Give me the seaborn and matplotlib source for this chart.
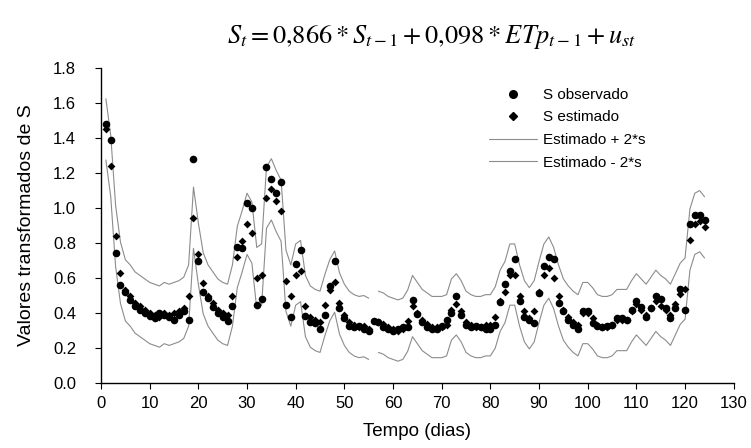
import numpy as np
import pandas as pd
import matplotlib
matplotlib.use("Agg")
import matplotlib.pyplot as plt
from matplotlib.lines import Line2D
import seaborn as sns

days = list(range(1, 125))
s_observado = [
    1.48, 1.39, 0.745, 0.56, 0.52, 0.475, 0.44, 0.42, 0.40, 0.385,
    0.37, 0.40, 0.39, 0.375, 0.36, 0.39, 0.41, 0.36, 1.28, 0.70,
    0.52, 0.485, 0.436, 0.40, 0.38, 0.355, 0.44, 0.78, 0.77, 1.03,
    1.00, 0.446, 0.478, 1.236, 1.166, 1.087, 1.15, 0.446, 0.38, 0.68,
    0.76, 0.383, 0.35, 0.343, 0.31, 0.39, 0.556, 0.70, 0.43, 0.37,
    0.326, 0.32, 0.326, 0.31, 0.30, 0.356, 0.35, 0.32, 0.31, 0.30,
    0.31, 0.32, 0.32, 0.474, 0.394, 0.35, 0.32, 0.31, 0.31, 0.326,
    0.36, 0.40, 0.497, 0.39, 0.33, 0.32, 0.326, 0.32, 0.31, 0.307,
    0.33, 0.465, 0.566, 0.64, 0.71, 0.47, 0.38, 0.36, 0.345, 0.516,
    0.67, 0.72, 0.71, 0.46, 0.41, 0.36, 0.33, 0.31, 0.413, 0.41,
    0.345, 0.326, 0.32, 0.326, 0.33, 0.37, 0.37, 0.36, 0.42, 0.47,
    0.436, 0.38, 0.427, 0.50, 0.48, 0.427, 0.37, 0.427, 0.54, 0.42,
    0.91, 0.96, 0.96, 0.93,
]
s_estimado = [
    1.45, 1.24, 0.84, 0.63, 0.53, 0.50, 0.46, 0.44, 0.42, 0.40,
    0.39, 0.38, 0.40, 0.39, 0.40, 0.41, 0.43, 0.50, 0.945, 0.74,
    0.57, 0.50, 0.46, 0.42, 0.40, 0.39, 0.50, 0.72, 0.81, 0.91,
    0.86, 0.60, 0.62, 1.06, 1.107, 1.04, 0.985, 0.585, 0.50, 0.62,
    0.64, 0.44, 0.38, 0.36, 0.35, 0.446, 0.53, 0.58, 0.455, 0.39,
    0.35, 0.33, 0.32, 0.325, 0.31, np.nan, 0.35, 0.34, 0.32, 0.31,
    0.30, 0.31, 0.356, 0.44, 0.40, 0.36, 0.34, 0.32, 0.32, 0.32,
    0.33, 0.42, 0.45, 0.41, 0.35, 0.33, 0.32, 0.32, 0.33, 0.33,
    0.375, 0.47, 0.52, 0.62, 0.62, 0.50, 0.41, 0.37, 0.41, 0.52,
    0.62, 0.66, 0.60, 0.50, 0.42, 0.38, 0.35, 0.33, 0.40, 0.40,
    0.37, 0.33, 0.32, 0.32, 0.33, 0.36, 0.36, 0.36, 0.41, 0.45,
    0.42, 0.39, 0.43, 0.47, 0.44, 0.42, 0.39, 0.45, 0.51, 0.54,
    0.82, 0.91, 0.925, 0.89,
]
two_s = 0.175  # 2*s

legend_labels = ["S observado", "S estimado", "Estimado + 2*s", "Estimado - 2*s"]
x_ticks = list(range(0, 131, 10))
y_ticks = [0.0, 0.2, 0.4, 0.6, 0.8, 1.0, 1.2, 1.4, 1.6, 1.8]

df = pd.DataFrame({"dia": days, "obs": s_observado, "est": s_estimado})
df["sup"] = df["est"] + two_s
df["inf"] = df["est"] - two_s
df["seg"] = df["est"].isna().cumsum()
bands = df.dropna(subset=["est"])

sns.set_theme(style="white")
plt.rcParams["font.family"] = ["Liberation Sans", "DejaVu Sans"]
plt.rcParams["mathtext.fontset"] = "stix"

fig = plt.figure(figsize=(7.51, 4.48), dpi=100)
ax = fig.add_axes([0.1345, 0.145, 0.8425, 0.703])

line_col = "#8c8c8c"
sns.lineplot(data=bands, x="dia", y="sup", units="seg", estimator=None,
             color=line_col, linewidth=0.8, ax=ax, legend=False)
sns.lineplot(data=bands, x="dia", y="inf", units="seg", estimator=None,
             color=line_col, linewidth=0.8, ax=ax, legend=False)
sns.scatterplot(data=df, x="dia", y="obs", marker="o", s=30, color="black",
                edgecolor="black", linewidth=0, ax=ax, legend=False, zorder=3)
sns.scatterplot(data=df, x="dia", y="est", marker="D", s=16, color="black",
                edgecolor="black", linewidth=0, ax=ax, legend=False, zorder=4)

ax.set_xlim(0, 130)
ax.set_ylim(0, 1.8)
ax.set_xticks(x_ticks)
ax.set_yticks(y_ticks)
ax.set_yticklabels([f"{v:.1f}" for v in y_ticks])
ax.tick_params(axis="y", direction="out", length=4, width=0.8,
               labelsize=12, color="black", labelcolor="black", pad=14, left=True)
ax.tick_params(axis="x", direction="out", length=4, width=0.8,
               labelsize=12, color="black", labelcolor="black", pad=5, bottom=True)
for side in ["top", "right"]:
    ax.spines[side].set_visible(False)
for side in ["left", "bottom"]:
    ax.spines[side].set_color("black")
    ax.spines[side].set_linewidth(1.0)
ax.set_xlabel("Tempo (dias)", fontsize=13.5, color="black", labelpad=9)
ax.set_ylabel("Valores transformados de S", fontsize=14, color="black", labelpad=13)

handles = [
    Line2D([], [], linestyle="none", marker="o", markersize=5.5, color="black"),
    Line2D([], [], linestyle="none", marker="D", markersize=4.0, color="black"),
    Line2D([], [], color=line_col, linewidth=0.8),
    Line2D([], [], color=line_col, linewidth=0.8),
]
leg = ax.legend(handles, legend_labels, loc="upper left",
                bbox_to_anchor=(0.613, 0.937), frameon=False, fontsize=11,
                handlelength=3.15, handletextpad=0.4, labelspacing=0.56,
                borderaxespad=0, borderpad=0)
for t in leg.get_texts():
    t.set_color("black")

fig.text(0.575, 0.918, r"$S_t = 0{,}866 * S_{t-1} + 0{,}098 * ETp_{t-1} + u_{st}$",
         ha="center", va="center", fontsize=19, color="black")

fig.savefig("out.png", dpi=100)
